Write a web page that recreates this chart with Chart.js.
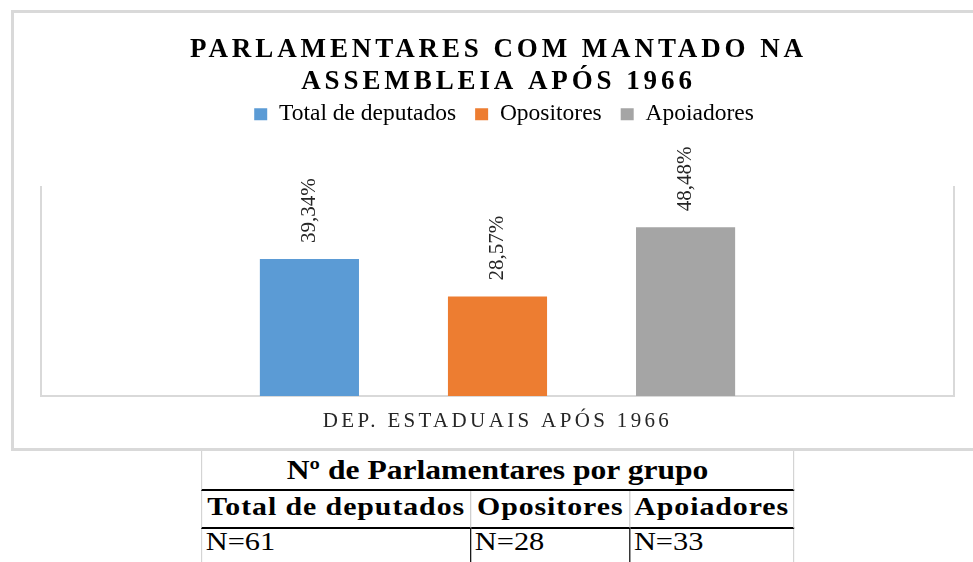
<!DOCTYPE html>
<html lang="pt">
<head>
<meta charset="utf-8">
<title>Parlamentares com mandato na Assembleia após 1966</title>
<script src="https://cdn.jsdelivr.net/npm/chart.js@4.4.1/dist/chart.umd.min.js"></script>
<style>
  html, body { margin: 0; padding: 0; background: #fff; }
  body { width: 973px; height: 562px; position: relative; overflow: hidden; }
  #moldura { position: absolute; left: 11px; top: 10px; width: 1000px; height: 435px; border: 3px solid #d9d9d9; }
  #grafico { position: absolute; left: 0; top: 0; }
  /* a tabela da referência aparece esticada na horizontal */
  #tabela { position: absolute; left: 201px; top: 451px; border-collapse: separate; border-spacing: 0;
            table-layout: fixed; width: 507px; transform: scaleX(1.17); transform-origin: 0 0;
            font-family: "Liberation Serif", "Times New Roman", serif; color: #000; }
  #tabela th, #tabela td { padding: 0; white-space: nowrap; vertical-align: top; overflow: hidden; }
  #tabela th { font-size: 27px; font-weight: bold; line-height: 38px; text-align: center;
               border-left: 1.7px solid #d4d4d4; border-right: 1.7px solid #d4d4d4; border-bottom: 2px solid #000; }
  #tabela .grupos td { font-size: 25.5px; font-weight: bold; letter-spacing: 0.8px; line-height: 32px; padding-bottom: 4px;
                       text-align: center; border-bottom: 2px solid #000; border-right: 1.3px solid #cacaca; }
  #tabela .ns td { font-size: 26px; line-height: 26px; padding: 0 0 10px 3px; text-align: left; border-right: 1.7px solid #000; }
  #tabela tr td:first-child { border-left: 1.7px solid #d4d4d4; }
  #tabela tr td:last-child { border-right: 1.7px solid #d4d4d4; }
</style>
</head>
<body>
<div id="moldura"></div>
<canvas id="grafico" width="973" height="446"></canvas>
<table id="tabela">
  <colgroup><col style="width:231px"><col style="width:136px"><col style="width:140px"></colgroup>
  <tr><th colspan="3" id="cabecalho"></th></tr>
  <tr class="grupos"></tr>
  <tr class="ns"></tr>
</table>
<script>
// ---- dados ----
const titulo = ["PARLAMENTARES COM MANTADO NA", "ASSEMBLEIA APÓS 1966"];
const categorias = ["DEP. ESTADUAIS APÓS 1966"];
const grupos = ["Total de deputados", "Opositores", "Apoiadores"];
const percentuais = [39.34, 28.57, 48.48];
const totais = [61, 28, 33];
const tituloTabela = "Nº de Parlamentares por grupo";

const cores = ["#5b9bd5", "#ed7d31", "#a5a5a5"];
const fonte = '"Liberation Serif", "Times New Roman", serif';

const formatar = v => v.toFixed(2).replace(".", ",") + "%";

// ---- tabela abaixo do gráfico ----
document.getElementById("cabecalho").textContent = tituloTabela;
const linhaGrupos = document.querySelector("#tabela .grupos");
const linhaNs = document.querySelector("#tabela .ns");
grupos.forEach((g, i) => {
  const td = document.createElement("td");
  td.textContent = g;
  linhaGrupos.appendChild(td);
  const tdN = document.createElement("td");
  tdN.textContent = "N=" + totais[i];
  linhaNs.appendChild(tdN);
});

// ---- rótulos girados, título e espaçamento de letras ----
const textos = {
  id: "textos",
  afterLayout(chart) {
    // legenda do Excel fica um pouco à direita do centro da área do gráfico
    chart.legend.left += 6.5;
    chart.legend.right += 6.5;
  },
  afterDatasetsDraw(chart) {
    const ctx = chart.ctx;
    ctx.save();
    ctx.font = "21px " + fonte;
    ctx.fillStyle = "#262626";
    ctx.textAlign = "left";
    ctx.textBaseline = "middle";
    chart.data.datasets.forEach((ds, i) => {
      const barra = chart.getDatasetMeta(i).data[0];
      ctx.save();
      ctx.translate(barra.x, barra.y - 16);
      ctx.rotate(-Math.PI / 2);
      ctx.fillText(formatar(ds.data[0]), 0, 0);
      ctx.restore();
    });
    ctx.restore();
    // o rótulo da categoria (ticks z:1) é desenhado logo depois, espaçado
    ctx.letterSpacing = "3.35px";
  },
  afterDraw(chart) {
    const ctx = chart.ctx;
    const area = chart.chartArea;
    ctx.save();
    ctx.letterSpacing = "3.9px";
    ctx.font = "bold 27px " + fonte;
    ctx.fillStyle = "#000";
    ctx.textAlign = "center";
    ctx.textBaseline = "alphabetic";
    const cx = (area.left + area.right) / 2 + 1;
    titulo.forEach((linha, i) => ctx.fillText(linha, cx, 56.5 + i * 32));
    ctx.restore();
    ctx.letterSpacing = "0px";
  }
};

const bordaCinza = { color: "#d9d9d9", width: 2 };
const semGrade = { display: false, drawTicks: false };

new Chart(document.getElementById("grafico"), {
  type: "bar",
  data: {
    labels: categorias,
    datasets: grupos.map((g, i) => ({
      label: g,
      data: [percentuais[i]],
      backgroundColor: cores[i],
      borderWidth: 0,
      categoryPercentage: 0.618,
      barPercentage: 0.527
    }))
  },
  options: {
    responsive: false,
    devicePixelRatio: 1,
    animation: false,
    layout: { padding: { top: 83.5, left: 41, right: 19, bottom: 12 } },
    plugins: {
      title: { display: false },
      tooltip: { enabled: false },
      legend: {
        position: "top",
        labels: {
          boxWidth: 13,
          boxHeight: 12,
          padding: 19,
          color: "#000",
          font: { family: fonte, size: 23.5 }
        }
      }
    },
    scales: {
      x: {
        type: "category",
        grid: semGrade,
        border: bordaCinza,
        ticks: { z: 1, padding: 13, color: "#262626", font: { family: fonte, size: 21 }, maxRotation: 0, autoSkip: false },
        afterFit: s => { s.height = 38; }
      },
      xTopo: {
        type: "category",
        position: "top",
        grid: semGrade,
        border: { display: false },
        ticks: { display: false },
        afterFit: s => { s.height = 51; }
      },
      y: {
        min: 0, max: 60,
        grid: semGrade,
        border: bordaCinza,
        ticks: { display: false }
      },
      yDir: {
        position: "right",
        min: 0, max: 60,
        grid: semGrade,
        border: bordaCinza,
        ticks: { display: false }
      }
    }
  },
  plugins: [textos]
});
</script>
</body>
</html>
